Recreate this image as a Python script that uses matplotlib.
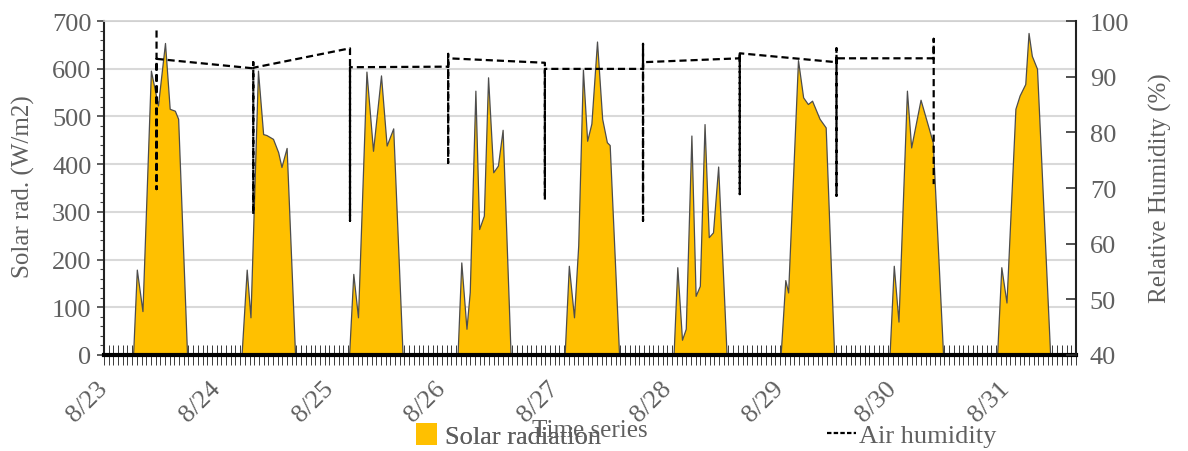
import matplotlib
matplotlib.use("Agg")
import matplotlib.pyplot as plt
import matplotlib.transforms as mtransforms
from matplotlib.patches import Patch
from matplotlib.lines import Line2D
from matplotlib.ticker import MultipleLocator

plt.rcParams['font.family'] = ['Liberation Serif', 'DejaVu Serif']

# time axis: hours since 8/23 00:00
day_labels = ["8/23", "8/24", "8/25", "8/26", "8/27", "8/28", "8/29", "8/30", "8/31"]

# solar radiation (W/m2), one hump per day
solar_t = [
    0.0,
    6.2, 7.0, 8.2, 10.0, 11.5, 13.0, 14.0, 15.1, 15.8, 17.7,
    29.3, 30.4, 31.2, 32.8, 33.9, 34.6, 36.0, 37.1, 37.8, 38.9, 40.7,
    52.2, 53.1, 54.1, 55.9, 57.3, 59.0, 60.2, 61.6, 63.6,
    75.3, 76.1, 77.2, 77.9, 79.1, 79.9, 80.9, 81.8, 82.9, 83.9, 84.9, 86.6,
    98.1, 99.0, 100.1, 101.0, 102.0, 102.9, 103.8, 105.0, 106.1, 107.1, 107.7, 109.7,
    121.3, 122.1, 123.1, 123.9, 125.1, 126.0, 126.9, 127.9, 128.8, 129.7, 130.8, 132.6,
    144.1, 145.1, 145.7, 147.8, 148.9, 149.9, 150.8, 152.4, 153.7, 155.5,
    167.3, 168.2, 169.2, 171.0, 171.9, 173.9, 176.5, 178.7,
    190.2, 191.1, 192.2, 194.1, 195.0, 196.2, 196.9, 197.6, 198.7, 201.5,
    207.0,
]
solar_w = [
    0,
    0, 179, 92, 596, 523, 654, 516, 512, 495, 0,
    0, 179, 79, 596, 463, 461, 453, 425, 394, 434, 0,
    0, 170, 79, 594, 428, 586, 439, 475, 0,
    0, 194, 55, 132, 554, 264, 292, 582, 383, 397, 472, 0,
    0, 187, 79, 230, 598, 449, 485, 657, 495, 446, 440, 0,
    0, 184, 32, 55, 460, 124, 145, 484, 247, 257, 395, 0,
    0, 157, 131, 618, 540, 526, 533, 495, 477, 0,
    0, 187, 70, 554, 435, 535, 446, 0,
    0, 184, 110, 516, 544, 568, 675, 627, 600, 0,
    0,
]

# relative humidity (%)
rh_t = [11.2, 11.2, 11.2,
        31.8, 31.8, 31.8, 31.8,
        52.4, 52.4, 52.4,
        73.3, 73.3, 73.3, 73.3,
        93.9, 93.9, 93.9,
        114.8, 114.8, 114.8, 114.8,
        135.4, 135.4, 135.4, 135.4,
        156.0, 156.0, 156.0, 156.0,
        176.7, 176.7, 176.7]
rh_v = [98.3, 69.8, 93.2,
        91.5, 92.6, 65.3, 91.6,
        95.1, 64.1, 91.7,
        91.8, 94.1, 74.5, 93.3,
        92.5, 67.9, 91.4,
        91.4, 95.9, 64.1, 92.6,
        93.3, 94.2, 68.9, 94.2,
        92.6, 95.1, 68.6, 93.3,
        93.3, 96.8, 70.7]

gray_txt = "#5f5f5f"
fs_tick = 19
fs_label = 18
fs_leg = 19

fig = plt.figure(figsize=(11.88, 4.52), dpi=100)
ax = fig.add_axes([0.0875, 0.2124, 0.8182, 0.7389])
ax.set_axisbelow(True)

ax.fill_between(solar_t, solar_w, 0, facecolor="#FFC000", edgecolor="#4d4d4d",
                linewidth=0.9, zorder=2)
ax.set_xlim(0, 207)
ax.set_ylim(0, 700)
ax.yaxis.set_major_locator(MultipleLocator(100))
ax.yaxis.set_minor_locator(MultipleLocator(20))
ax.grid(axis="y", color="#d9d9d9", linewidth=1.5)

ax.set_xticks([24 * i for i in range(len(day_labels))])
ax.set_xticklabels(day_labels, rotation=45, ha="right", va="top")
ax.xaxis.set_minor_locator(MultipleLocator(1))
ax.tick_params(axis="x", which="both", direction="inout", length=15, width=0.7,
               color="#3a3a3a", pad=8, labelsize=fs_tick, labelcolor=gray_txt)
ax.tick_params(axis="y", which="major", direction="out", length=5, width=1.2,
               color="#444444", pad=4, labelsize=fs_tick, labelcolor=gray_txt)
ax.tick_params(axis="y", which="minor", direction="out", length=3, width=0.8,
               color="#444444")
shift = mtransforms.ScaledTranslation(0.08, 0, fig.dpi_scale_trans)
for lbl in ax.get_xticklabels():
    lbl.set_transform(lbl.get_transform() + shift)

ax.spines["bottom"].set_linewidth(3)
ax.spines["bottom"].set_color("black")
ax.spines["left"].set_linewidth(1.5)
ax.spines["left"].set_color("#222222")
ax.spines["top"].set_color("#d0d0d0")
ax.spines["top"].set_linewidth(1.2)
ax.spines["right"].set_visible(False)

ax.set_ylabel("Solar rad. (W/m2)", fontsize=fs_label, color=gray_txt, va="center")
ax.yaxis.set_label_coords(-0.083, 0.506)
ax.set_xlabel("Time series", fontsize=fs_label, color=gray_txt, va="center")
ax.xaxis.set_label_coords(0.5, -0.225)

ax2 = ax.twinx()
ax2.plot(rh_t, rh_v, color="black", linewidth=1.6, linestyle=(0, (3.2, 1.8)))
ax2.set_ylim(40, 100)
ax2.yaxis.set_major_locator(MultipleLocator(10))
ax2.tick_params(axis="y", direction="in", length=7, width=1.2, color="#333333",
                pad=10, labelsize=fs_tick, labelcolor=gray_txt)
for side in ["top", "bottom", "left"]:
    ax2.spines[side].set_visible(False)
ax2.spines["right"].set_linewidth(1.5)
ax2.spines["right"].set_color("#222222")
ax2.set_ylabel("Relative Humidity (%)", fontsize=fs_label, color=gray_txt, va="center")
ax2.yaxis.set_label_coords(1.0864, 0.503)

leg1 = fig.legend(handles=[Patch(facecolor="#FFC000", edgecolor="none", label="Solar radiation")],
                  loc="center left", bbox_to_anchor=(0.330, 0.035), frameon=False,
                  handlelength=0.8, handleheight=0.9, handletextpad=0.3,
                  fontsize=fs_leg, labelcolor=gray_txt)
fig.add_artist(leg1)
fig.legend(handles=[Line2D([], [], color="black", linewidth=1.6, linestyle=(0, (2, 1)),
                           label="Air humidity")],
           loc="center left", bbox_to_anchor=(0.676, 0.035), frameon=False,
           handlelength=1.1, handletextpad=0.1, fontsize=fs_leg, labelcolor=gray_txt)

fig.savefig("out.png", dpi=100)
